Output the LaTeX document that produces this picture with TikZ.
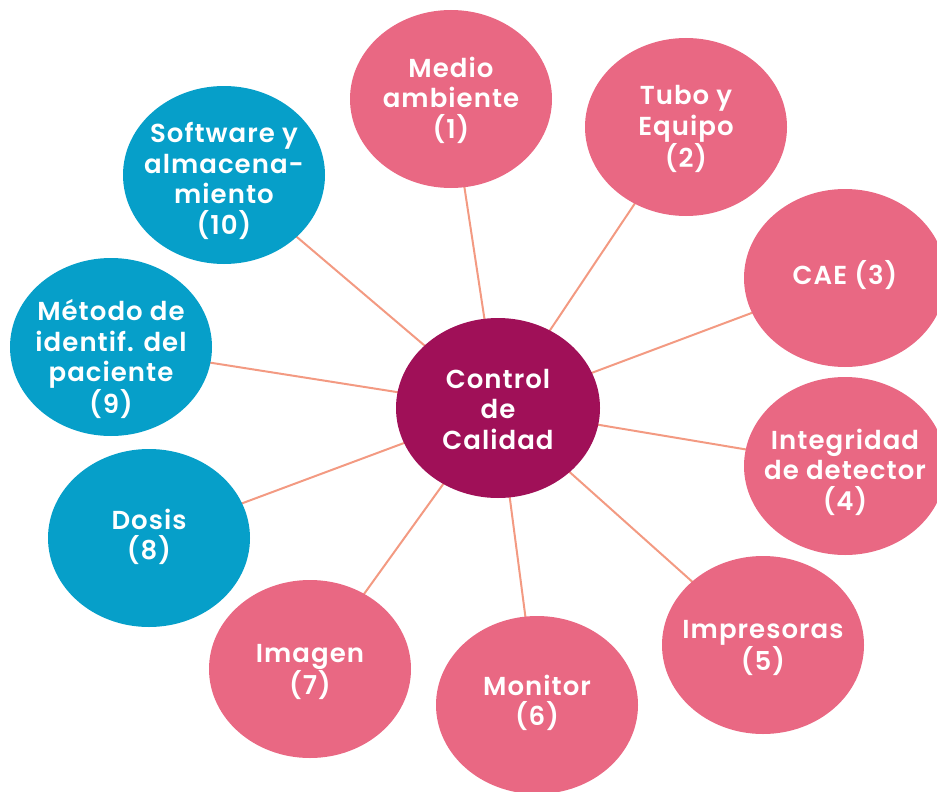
\documentclass[tikz,border=0pt]{standalone}
\usepackage{fontspec}
\setmainfont{Poppins}
\newfontfamily\lblfont{Poppins SemiBold}[LetterSpace=4]
\usetikzlibrary{shapes.geometric}
\pgfdeclarelayer{back}
\pgfsetlayers{back,main}
\definecolor{rosa}{RGB}{233,104,131}
\definecolor{azul}{RGB}{6,159,201}
\definecolor{morado}{RGB}{160,16,88}
\definecolor{enlace}{RGB}{243,154,130}
\begin{document}
\begin{tikzpicture}[x=1pt,y=-1pt,
  bubble/.style={ellipse,minimum width=202pt,minimum height=178pt,inner sep=0pt,draw=none},
  rosab/.style={bubble,fill=rosa},
  azulb/.style={bubble,fill=azul},
  centrob/.style={bubble,fill=morado,minimum width=204pt,minimum height=180pt},
  txt/.style={text=white,align=center,font=\lblfont\fontsize{26}{30.5}\selectfont,inner sep=0pt},
  enlace/.style={draw=enlace,line width=2pt}]
\useasboundingbox (0,0) rectangle (937,792);

% bubbles
\node[centrob] (c)   at (498,408) {};
\node[rosab]   (n1)  at (451,99)  {};
\node[rosab]   (n2)  at (686,127) {};
\node[rosab]   (n3)  at (845,278) {};
\node[rosab]   (n4)  at (845,466) {};
\node[rosab]   (n5)  at (763,645) {};
\node[rosab]   (n6)  at (537,705) {};
\node[rosab]   (n7)  at (310,669) {};
\node[azulb]   (n8)  at (149,538) {};
\node[azulb]   (n9)  at (111,347) {};
\node[azulb]   (n10) at (224,175) {};

% spokes, drawn underneath the bubbles
\begin{pgfonlayer}{back}
\foreach \n in {n1,n2,n3,n4,n5,n6,n7,n8,n9,n10}
  \draw[enlace] (c.center) -- (\n.center);
\end{pgfonlayer}

% labels
\node[txt] (t0)  at ([yshift=-1pt]c.center)  {Control\\de\\Calidad};
\node[txt] (t1)  at ([yshift=-1pt]n1.center) {Medio\\ambiente\\(1)};
\node[txt] (t2)  at ([yshift=-2pt]n2.center) {Tubo y\\Equipo\\(2)};
\node[txt] (t3)  at ([yshift=3pt]n3.center)  {CAE (3)};
\node[txt] (t4)  at ([yshift=-6pt]n4.center) {Integridad\\de detector\\(4)};
\node[txt] (t5)  at ([yshift=-3pt]n5.center) {Impresoras\\(5)};
\node[txt] (t6)  at ([yshift=2pt]n6.center)  {Monitor\\(6)};
\node[txt] (t7)  at ([yshift=-3pt]n7.center) {Imagen\\(7)};
\node[txt] (t8)  at ([yshift=1pt]n8.center)  {Dosis\\(8)};
\node[txt] (t9)  at ([yshift=-12pt]n9.center) {Método de\\identif. del\\paciente\\(9)};
\node[txt] (t10) at ([yshift=-6pt]n10.center) {Software y\\almacena-\\miento\\(10)};
\end{tikzpicture}
\end{document}
